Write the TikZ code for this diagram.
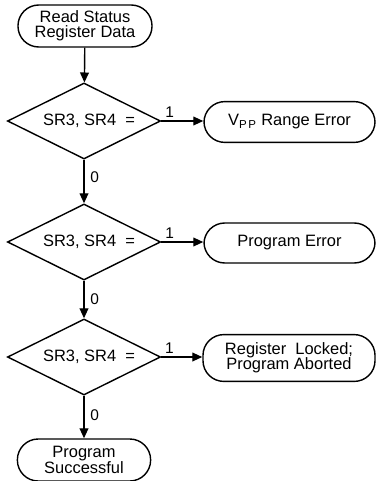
\documentclass[tikz,border=0pt]{standalone}
\usepackage{fontspec}
\setmainfont{Liberation Sans}
\usetikzlibrary{positioning, arrows.meta, shapes.geometric}

\begin{document}
\begin{tikzpicture}[x=0.025cm, y=-0.025cm, line width=1pt, font=\fontsize{11.7}{11}\selectfont,
  term/.style={draw, rectangle, rounded corners=0.52cm, align=center, inner sep=1pt, minimum height=1.05cm},
  test/.style={draw, diamond, aspect=2, inner sep=0pt, minimum width=3.825cm, minimum height=1.9cm},
  flow/.style={-{Triangle[length=0.25cm, width=0.22cm]}},
  lbl/.style={font=\fontsize{11}{11}\selectfont, inner sep=2pt},
  no/.style={lbl, right, inner sep=4pt}]

\useasboundingbox (0,0) rectangle (376,481);

% left column
\node[term, minimum width=3.35cm] (read) at (85,26) {Read Status\\Register Data};
\node[test] (t1) at (84,121) {\hspace*{0.25cm}SR3, SR4~ =};
\node[test] (t2) at (84,242) {\hspace*{0.25cm}SR3, SR4~ =};
\node[test] (t3) at (84,357) {\hspace*{0.25cm}SR3, SR4~ =};
\node[term, minimum width=3.33cm] (done) at (84,460) {Program\\Successful};

% right column
\node[term, minimum width=4.275cm, minimum height=1.02cm] (vpp) at (289.5,122) {V\textsubscript{P\kern1.2pt P} Range Error};
\node[term, minimum width=4.275cm, minimum height=1.0cm] (perr) at (289.5,243) {Program Error};
\node[term, minimum width=4.3cm, minimum height=1.17cm] (lock) at (289,358) {Register~ Locked;\\Program Aborted};

\draw[flow] (read) -- (t1);
\draw[flow] (t1.east) -- node[lbl, pos=0.2, above] {1} (vpp.west |- t1.east);
\draw[flow] (t1) -- node[no, pos=0.4] {0} (t2);
\draw[flow] (t2.east) -- node[lbl, pos=0.2, above] {1} (perr.west |- t2.east);
\draw[flow] (t2) -- node[no] {0} (t3);
\draw[flow] (t3.east) -- node[lbl, pos=0.2, above] {1} (lock.west |- t3.east);
\draw[flow] (t3) -- node[no, pos=0.45] {0} (done);
\end{tikzpicture}
\end{document}
